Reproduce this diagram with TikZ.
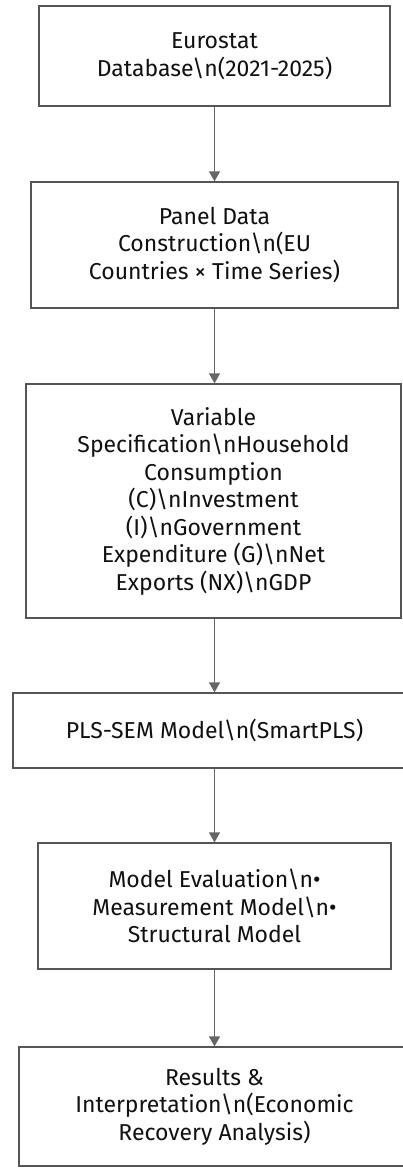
\documentclass[tikz,border=0pt]{standalone}
\usepackage{fontspec}
\setmainfont{Fira Sans}
\usetikzlibrary{arrows.meta}
\definecolor{boxline}{HTML}{555555}
\definecolor{arrowc}{HTML}{666666}
\definecolor{txt}{HTML}{111111}
\begin{document}
\begin{tikzpicture}[x=1pt,y=-1pt,
  stepbox/.style={draw=boxline, line width=1.3pt, fill=white, align=center, inner sep=0pt, text=txt, font=\fontsize{23}{27.5}\selectfont},
  flow/.style={draw=arrowc, line width=1.3pt, -{Triangle[length=10pt,width=11pt]}}]
\useasboundingbox (0,0) rectangle (402,1168);
\node[stepbox, minimum width=351pt, minimum height=100pt] (n1) at (214.5,56)
  {Eurostat\\Database\textbackslash n(2021-2025)};
\node[stepbox, minimum width=367pt, minimum height=126pt] (n2) at (214.5,245)
  {Panel Data\\Construction\textbackslash n(EU\\Countries × Time Series)};
\node[stepbox, minimum width=375pt, minimum height=234pt] (n3) at (213.5,501)
  {Variable\\Specification\textbackslash nHousehold\\Consumption\\(C)\textbackslash nInvestment\\(I)\textbackslash nGovernment\\Expenditure (G)\textbackslash nNet\\Exports (NX)\textbackslash nGDP};
\node[stepbox, minimum width=403pt, minimum height=75pt] (n4) at (214.5,730.5)
  {PLS-SEM Model\textbackslash n(SmartPLS)};
\node[stepbox, minimum width=353pt, minimum height=126pt] (n5) at (214.5,906)
  {Model Evaluation\textbackslash n•\\Measurement Model\textbackslash n•\\Structural Model};
\node[stepbox, minimum width=391pt, minimum height=119pt] (n6) at (214.5,1106.5)
  {Results \&\\Interpretation\textbackslash n(Economic\\Recovery Analysis)};
\draw[flow] (n1.south) -- (n2.north);
\draw[flow] (n2.south) -- (n3.north -| n2.south);
\draw[flow] (n3.south -| n2.south) -- (n4.north);
\draw[flow] (n4.south) -- (n5.north);
\draw[flow] (n5.south) -- (n6.north);
\end{tikzpicture}
\end{document}
